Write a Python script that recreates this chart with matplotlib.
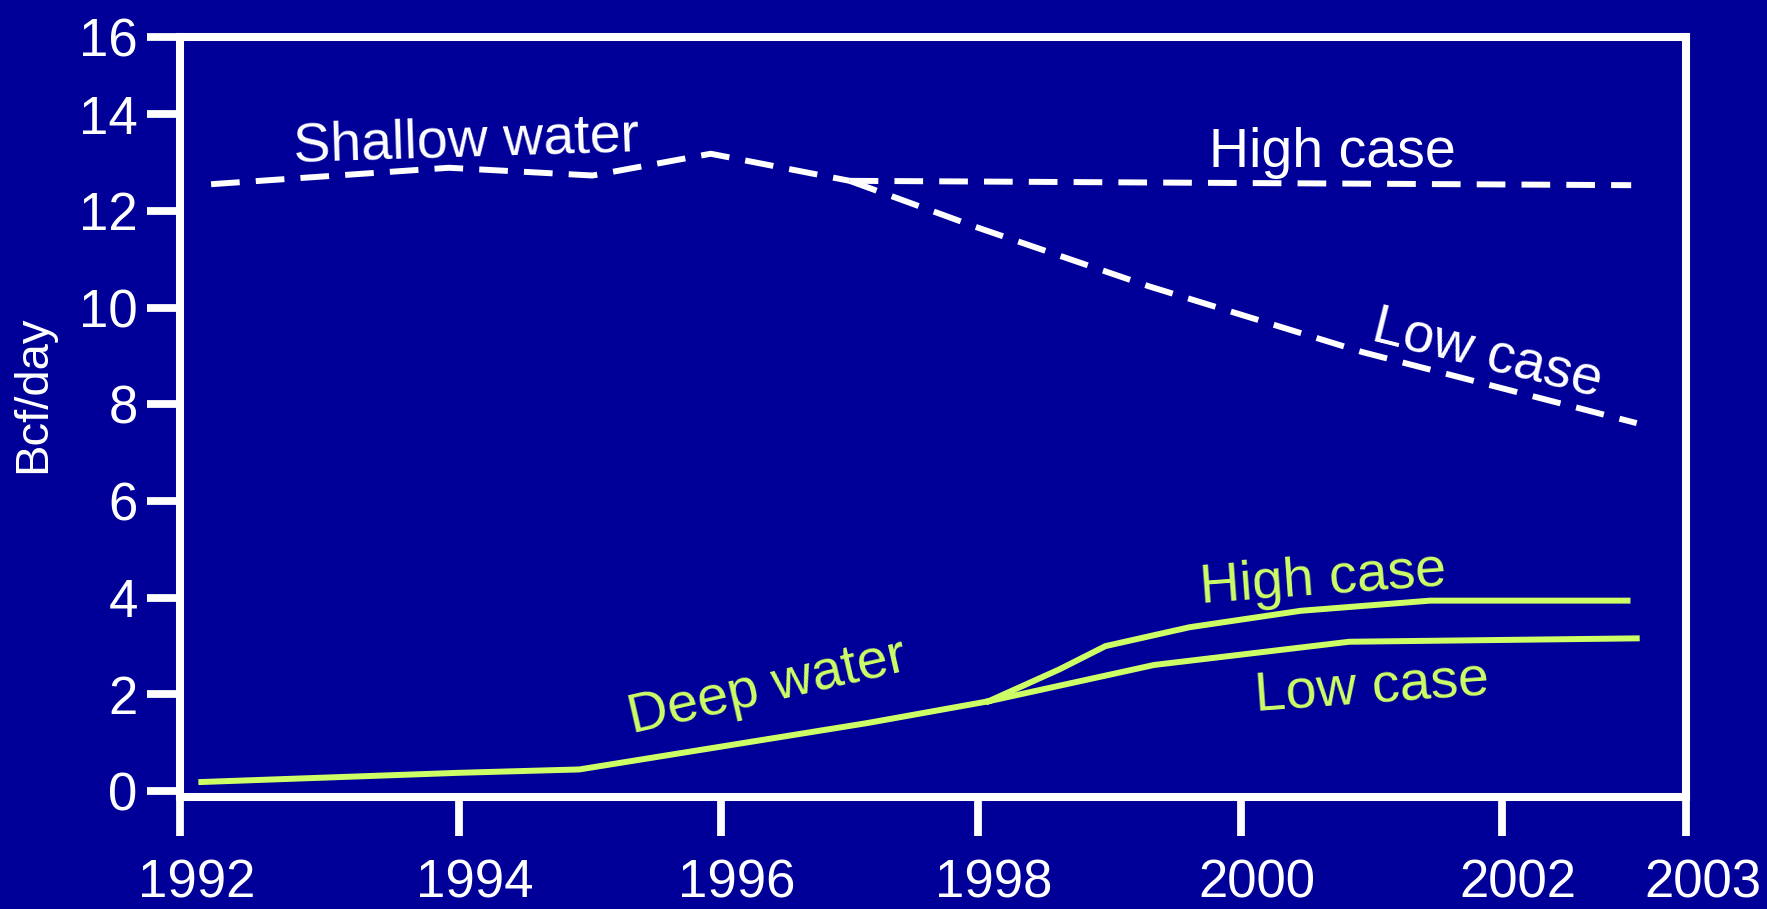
import numpy as np
import matplotlib
matplotlib.use("Agg")
import matplotlib.pyplot as plt
import matplotlib.transforms as mtransforms

plt.rcParams['font.family'] = ['Liberation Sans', 'DejaVu Sans']

BG = '#000099'
GREEN = '#CCFF66'

# Tick labels / axis layout (the original chart uses an uneven year axis)
x_ticks = [1992, 1994, 1996, 1998, 2000, 2002, 2003]
y_ticks = [0, 2, 4, 6, 8, 10, 12, 14, 16]

# Shallow water (dashed, white)
shallow_years = [1992.22, 1993.93, 1995.02, 1995.92, 1997.0]
shallow_vals = [12.55, 12.89, 12.73, 13.18, 12.62]
shallow_high_years = [1997.0, 2002.70]
shallow_high_vals = [12.62, 12.53]
shallow_low_years = [1997.0, 1998.0, 1999.3, 2000.93, 2002.73]
shallow_low_vals = [12.62, 11.65, 10.44, 9.08, 7.61]

# Deep water (solid, green)
deep_years = [1992.15, 1994.0, 1994.92, 1997.14, 1998.08]
deep_vals = [0.19, 0.38, 0.45, 1.41, 1.86]
deep_high_years = [1998.08, 1998.62, 1998.97, 1999.61, 2000.46, 2001.45, 2002.68]
deep_high_vals = [1.86, 2.52, 3.0, 3.39, 3.73, 3.94, 3.94]
deep_low_years = [1998.08, 1999.34, 2000.83, 2002.73]
deep_low_vals = [1.86, 2.61, 3.09, 3.16]

# uneven axis spacing as seen in the original
x_knots = [1991, 1992, 1994, 1996, 1998, 2000, 2002, 2003, 2004]
x_pos = [42.5, 180.5, 458.6, 721.2, 978.1, 1240.7, 1502.1, 1686.5, 1870.5]
y_knots = [-1, 0, 14, 16, 17]
y_pos = [-1, 0, 14, 15.6, 16.6]


def x_fwd(v):
    return np.interp(v, x_knots, x_pos)


def x_inv(v):
    return np.interp(v, x_pos, x_knots)


def y_fwd(v):
    return np.interp(v, y_knots, y_pos)


def y_inv(v):
    return np.interp(v, y_pos, y_knots)


fig = plt.figure(figsize=(17.67, 9.09), dpi=100, facecolor=BG)
ax = fig.add_axes([0.10215, 0.12321, 0.85229, 0.83642])
ax.set_facecolor(BG)

ax.set_xscale('function', functions=(x_fwd, x_inv))
ax.set_yscale('function', functions=(y_fwd, y_inv))

dash = (0, (4.8, 2.7))
lw = 4.3
ax.plot(shallow_years, shallow_vals, color='white', lw=lw, linestyle=dash)
ax.plot(shallow_high_years, shallow_high_vals, color='white', lw=lw, linestyle=dash)
ax.plot(shallow_low_years, shallow_low_vals, color='white', lw=lw, linestyle=dash)

ax.plot(deep_years, deep_vals, color=GREEN, lw=lw)
ax.plot(deep_high_years, deep_high_vals, color=GREEN, lw=lw)
ax.plot(deep_low_years, deep_low_vals, color=GREEN, lw=lw)

ax.set_xlim(1992, 2003)
ax.set_ylim(-0.12, 16)

ax.set_xticks(x_ticks)
ax.set_xticklabels([str(t) for t in x_ticks])
ax.set_yticks(y_ticks)
ax.set_yticklabels([str(t) for t in y_ticks])
ax.minorticks_off()

for s in ax.spines.values():
    s.set_color('white')
    s.set_linewidth(5.8)

ax.tick_params(axis='x', colors='white', length=28, width=5.6, pad=16.5,
               labelsize=38, direction='out')
ax.tick_params(axis='y', colors='white', length=23.8, width=5.6, pad=7,
               labelsize=38, direction='out')

# x tick labels sit a little right of their ticks in the original
shift = mtransforms.ScaledTranslation(0.16, 0, fig.dpi_scale_trans)
for lab in ax.get_xticklabels():
    lab.set_transform(lab.get_transform() + shift)

ax.set_ylabel('Bcf/day', color='white', fontsize=34, va='center')
ax.yaxis.set_label_coords(-0.0979, 0.53)

txt = dict(ha='center', va='center_baseline', rotation_mode='anchor',
           transform=ax.transAxes, fontsize=40)
ax.text(0.1897, 0.8689, 'Shallow water', color='white', rotation=1.8, **txt)
ax.text(0.7646, 0.8543, 'High case', color='white', rotation=0, **txt)
ax.text(0.8688, 0.5893, 'Low case', color='white', rotation=-14, **txt)
ax.text(0.7586, 0.2937, 'High case', color=GREEN, rotation=4.2, **txt)
ax.text(0.7906, 0.1512, 'Low case', color=GREEN, rotation=4.1, **txt)
ax.text(0.3886, 0.1506, 'Deep water', color=GREEN, rotation=12.9, **txt)

fig.savefig('out.png', dpi=100, facecolor=BG)
